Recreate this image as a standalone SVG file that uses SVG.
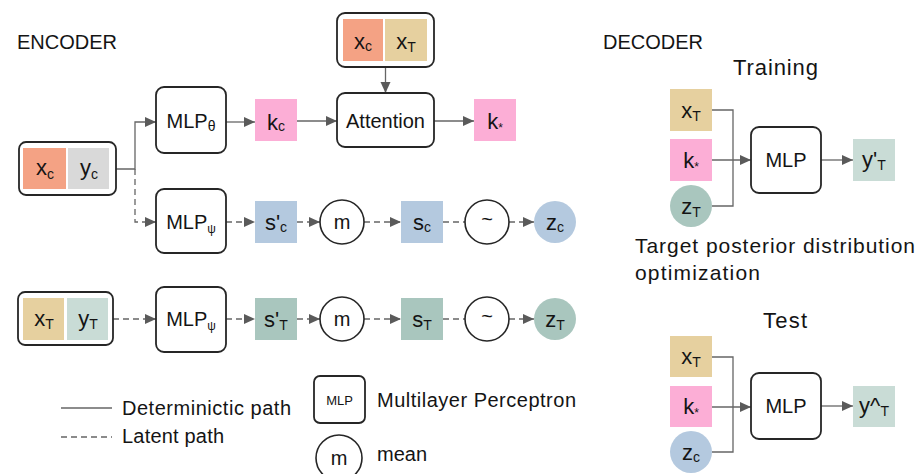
<svg xmlns="http://www.w3.org/2000/svg" width="921" height="474" viewBox="0 0 921 474">
<style>
.bg{fill:#fff}
.box{fill:#fff;stroke:#262626;stroke-width:1.8}
.circ{fill:#fff;stroke:#262626;stroke-width:1.6}
.ln{fill:none;stroke:#666;stroke-width:1.3}
.dash{stroke-dasharray:6 4}
.t{font-family:"Liberation Sans",Arial,sans-serif;fill:#141414}
.lbl{font-size:20px}
.var{font-size:22px}
.sub{font-size:14px}
.ctr{text-anchor:middle}
.leg{font-size:20px}
.orange{fill:#F4A284}
.grey{fill:#D9D9D9}
.tan{fill:#E6D09F}
.pale{fill:#C9DCD6}
.pink{fill:#FCAED6}
.blue{fill:#B4C9DF}
.teal{fill:#A9C6BE}
</style>
<defs>
<marker id="arr" markerUnits="userSpaceOnUse" markerWidth="12" markerHeight="12" refX="11" refY="5" orient="auto">
<path d="M0,0 L11,5 L0,10 z" fill="#5a5a5a"/>
</marker>
</defs>
<rect class="bg" x="0" y="0" width="921" height="474"/>

<text class="t" x="17" y="49" font-size="20">ENCODER</text>
<text class="t" x="603" y="49" font-size="20">DECODER</text>

<g id="connectors">
<path class="ln" d="M116,169 H135 V122 H156" marker-end="url(#arr)"/>
<path class="ln dash" d="M135,169 V222 H156" marker-end="url(#arr)"/>
<path class="ln" d="M226,122 H255" marker-end="url(#arr)"/>
<path class="ln" d="M297,121 H337" marker-end="url(#arr)"/>
<path class="ln" d="M385.5,67 V93" marker-end="url(#arr)"/>
<path class="ln" d="M434,121 H474" marker-end="url(#arr)"/>
<path class="ln dash" d="M226,222 H255" marker-end="url(#arr)"/>
<path class="ln dash" d="M297,222 H320" marker-end="url(#arr)"/>
<path class="ln dash" d="M364,222 H401" marker-end="url(#arr)"/>
<path class="ln dash" d="M443,222 H465"/>
<path class="ln dash" d="M509,222 H534" marker-end="url(#arr)"/>
<path class="ln dash" d="M113,319 H156" marker-end="url(#arr)"/>
<path class="ln dash" d="M226,319 H255" marker-end="url(#arr)"/>
<path class="ln dash" d="M297,319 H320" marker-end="url(#arr)"/>
<path class="ln dash" d="M364,319 H401" marker-end="url(#arr)"/>
<path class="ln dash" d="M443,319 H465"/>
<path class="ln dash" d="M509,319 H534" marker-end="url(#arr)"/>
<path class="ln" d="M712,110 H733 V206 H712"/>
<path class="ln" d="M712,160 H751" marker-end="url(#arr)"/>
<path class="ln" d="M821,160 H853" marker-end="url(#arr)"/>
<path class="ln" d="M712,357 H733 V452 H712"/>
<path class="ln" d="M712,407 H751" marker-end="url(#arr)"/>
<path class="ln" d="M821,406 H853" marker-end="url(#arr)"/>
</g>

<g id="context-input">
<rect class="box" x="19" y="142" width="97" height="53" rx="7"/>
<rect class="orange" x="23" y="148" width="43" height="41"/>
<rect class="grey" x="68" y="148" width="41" height="41"/>
<text class="t var ctr" x="45" y="175">x<tspan class="sub" dy="4">c</tspan></text>
<text class="t var ctr" x="89" y="175">y<tspan class="sub" dy="4">c</tspan></text>
</g>

<g id="mlp-theta">
<rect class="box" x="156" y="87" width="70" height="66" rx="8"/>
<text class="t lbl ctr" x="191" y="128">MLP<tspan class="sub" font-size="12px" dy="3">θ</tspan></text>
</g>

<g id="kc">
<rect class="pink" x="255" y="99" width="42" height="42"/>
<text class="t var ctr" x="276" y="130">k<tspan class="sub" dy="1">c</tspan></text>
</g>

<g id="attention-input">
<rect class="box" x="337" y="13" width="97" height="54" rx="8"/>
<rect class="orange" x="343" y="19" width="40" height="42"/>
<rect class="tan" x="385" y="19" width="42" height="42"/>
<text class="t var ctr" x="363" y="49">x<tspan class="sub" dy="2">c</tspan></text>
<text class="t var ctr" x="406" y="49">x<tspan class="sub" dy="3">T</tspan></text>
</g>

<g id="attention">
<rect class="box" x="337" y="93" width="97" height="54" rx="8"/>
<text class="t lbl ctr" x="385.5" y="128">Attention</text>
</g>

<g id="kstar">
<rect class="pink" x="474" y="99" width="42" height="42"/>
<text class="t var ctr" x="495" y="129">k<tspan font-size="12px" dy="3">*</tspan></text>
</g>

<g id="mlp-psi-c">
<rect class="box" x="156" y="189" width="70" height="64" rx="8"/>
<text class="t lbl ctr" x="191" y="229">MLP<tspan font-size="12px" dy="4">ψ</tspan></text>
</g>

<g id="s-prime-c">
<rect class="blue" x="255" y="201" width="42" height="42"/>
<text class="t var ctr" x="276" y="230">s'<tspan class="sub" dy="2">c</tspan></text>
</g>

<g id="mean-c">
<circle class="circ" cx="342" cy="222" r="22"/>
<text class="t lbl ctr" x="342" y="229">m</text>
</g>

<g id="sc">
<rect class="blue" x="401" y="201" width="42" height="42"/>
<text class="t var ctr" x="422" y="230">s<tspan class="sub" dy="2">c</tspan></text>
</g>

<g id="sample-c">
<circle class="circ" cx="487" cy="222" r="22"/>
<text class="t lbl ctr" x="487" y="226">~</text>
</g>

<g id="zc">
<circle class="blue" cx="555" cy="222" r="21"/>
<text class="t var ctr" x="555" y="230">z<tspan class="sub" dy="2">c</tspan></text>
</g>

<g id="target-input">
<rect class="box" x="18" y="292" width="95" height="53" rx="7"/>
<rect class="tan" x="23" y="298" width="41" height="42"/>
<rect class="pale" x="67" y="298" width="41" height="42"/>
<text class="t var ctr" x="44" y="326">x<tspan class="sub" dy="3">T</tspan></text>
<text class="t var ctr" x="88" y="326">y<tspan class="sub" dy="3">T</tspan></text>
</g>

<g id="mlp-psi-t">
<rect class="box" x="156" y="287" width="70" height="65" rx="8"/>
<text class="t lbl ctr" x="191" y="326">MLP<tspan font-size="12px" dy="4">ψ</tspan></text>
</g>

<g id="s-prime-t">
<rect class="teal" x="255" y="298" width="42" height="42"/>
<text class="t var ctr" x="276" y="327">s'<tspan class="sub" dy="3">T</tspan></text>
</g>

<g id="mean-t">
<circle class="circ" cx="342" cy="319" r="22"/>
<text class="t lbl ctr" x="342" y="326">m</text>
</g>

<g id="st">
<rect class="teal" x="401" y="298" width="42" height="42"/>
<text class="t var ctr" x="422" y="327">s<tspan class="sub" dy="3">T</tspan></text>
</g>

<g id="sample-t">
<circle class="circ" cx="487" cy="319" r="22"/>
<text class="t lbl ctr" x="487" y="323">~</text>
</g>

<g id="zt">
<circle class="teal" cx="555" cy="319" r="21"/>
<text class="t var ctr" x="555" y="327">z<tspan class="sub" dy="3">T</tspan></text>
</g>

<g id="legend">
<line class="ln" x1="61" y1="408" x2="112" y2="408"/>
<text class="t leg" x="122" y="415" textLength="169" lengthAdjust="spacing">Determinictic path</text>
<line class="ln dash" x1="61" y1="437" x2="112" y2="437"/>
<text class="t leg" x="122" y="443" textLength="102" lengthAdjust="spacing">Latent path</text>
<rect class="box" x="314" y="376" width="51" height="47" rx="6" stroke-width="1.6"/>
<text class="t ctr" x="339.5" y="405" font-size="13">MLP</text>
<text class="t leg" x="377" y="407" textLength="199" lengthAdjust="spacing">Multilayer Perceptron</text>
<circle class="circ" cx="339" cy="458" r="23"/>
<text class="t lbl ctr" x="339" y="465">m</text>
<text class="t leg" x="377" y="461">mean</text>
</g>

<g id="decoder-training">
<text class="t" x="733" y="75" font-size="22" textLength="85" lengthAdjust="spacing">Training</text>
<g id="train-xt">
<rect class="tan" x="670" y="89" width="42" height="42"/>
<text class="t var ctr" x="691" y="118">x<tspan class="sub" dy="3">T</tspan></text>
</g>
<g id="train-kstar">
<rect class="pink" x="670" y="139" width="42" height="42"/>
<text class="t var ctr" x="691" y="168">k<tspan font-size="12px" dy="3">*</tspan></text>
</g>
<g id="train-zt">
<circle class="teal" cx="691" cy="206" r="21"/>
<text class="t var ctr" x="691" y="214">z<tspan class="sub" dy="3">T</tspan></text>
</g>
<g id="train-mlp">
<rect class="box" x="751" y="127" width="70" height="66" rx="8"/>
<text class="t lbl ctr" x="786" y="167">MLP</text>
</g>
<g id="train-y">
<rect class="pale" x="853" y="139" width="42" height="42"/>
<text class="t var ctr" x="874" y="167">y'<tspan class="sub" dy="3">T</tspan></text>
</g>
<text class="t" x="635" y="253" font-size="21" textLength="280" lengthAdjust="spacing">Target posterior distribution</text>
<text class="t" x="635" y="280" font-size="21" textLength="125" lengthAdjust="spacing">optimization</text>
</g>

<g id="decoder-test">
<text class="t" x="763" y="328" font-size="22" textLength="44" lengthAdjust="spacing">Test</text>
<g id="test-xt">
<rect class="tan" x="670" y="336" width="42" height="41"/>
<text class="t var ctr" x="691" y="364">x<tspan class="sub" dy="3">T</tspan></text>
</g>
<g id="test-kstar">
<rect class="pink" x="670" y="386" width="42" height="41"/>
<text class="t var ctr" x="691" y="414">k<tspan font-size="12px" dy="3">*</tspan></text>
</g>
<g id="test-zc">
<circle class="blue" cx="691" cy="452" r="21"/>
<text class="t var ctr" x="691" y="460">z<tspan class="sub" dy="2">c</tspan></text>
</g>
<g id="test-mlp">
<rect class="box" x="751" y="373" width="70" height="66" rx="8"/>
<text class="t lbl ctr" x="786" y="413">MLP</text>
</g>
<g id="test-y">
<rect class="pale" x="853" y="386" width="42" height="41"/>
<text class="t var ctr" x="874" y="413" font-size="18">y^<tspan class="sub" dy="3">T</tspan></text>
</g>
</g>
</svg>
